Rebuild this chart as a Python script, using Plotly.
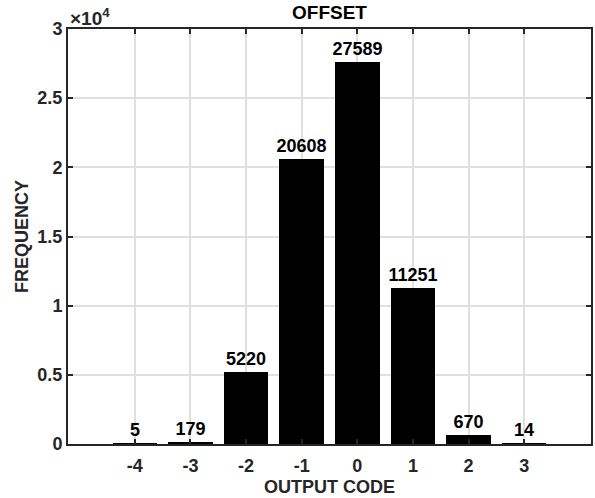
import plotly.graph_objects as go

codes = [-4, -3, -2, -1, 0, 1, 2, 3]
code_labels = ["-4", "-3", "-2", "-1", "0", "1", "2", "3"]
freq = [5, 179, 5220, 20608, 27589, 11251, 670, 14]
ytick_vals = [0, 5000, 10000, 15000, 20000, 25000, 30000]
ytick_text = ["0", "0.5", "1", "1.5", "2", "2.5", "3"]

FONT = "Liberation Sans, Arial, Helvetica, sans-serif"

fig = go.Figure()
fig.add_trace(go.Bar(
    x=codes, y=freq, width=0.8,
    marker=dict(color="black", line=dict(width=0)),
    text=[str(v) for v in freq], textposition="outside",
    constraintext="none",
    textfont=dict(family=FONT, size=18, color="black", weight="bold"),
    cliponaxis=False,
))

axis_common = dict(
    showline=True, linecolor="#262626", linewidth=2, mirror="ticks",
    ticks="inside", ticklen=5, tickwidth=2, tickcolor="#262626",
    showgrid=True, gridcolor="#dfdfdf", gridwidth=1.5,
    zeroline=False,
    tickfont=dict(family=FONT, size=18, color="#262626", weight="bold"),
)

fig.update_xaxes(range=[-5.2, 4.2], tickvals=codes, ticktext=code_labels, **axis_common,
                 ticklabelstandoff=4,
                 title=dict(text="OUTPUT CODE", standoff=6,
                            font=dict(family=FONT, size=18, color="#262626", weight="bold")))
fig.update_yaxes(range=[0, 30000], tickvals=ytick_vals, ticktext=ytick_text, **axis_common,
                 title=dict(text="FREQUENCY", standoff=4,
                            font=dict(family=FONT, size=18, color="#262626", weight="bold")))

fig.update_layout(
    width=595, height=498,
    margin=dict(l=68, r=2, t=29, b=54),
    plot_bgcolor="white", paper_bgcolor="white",
    showlegend=False,
    bargap=0,
    title=dict(text="OFFSET", x=0.5, xref="paper", xanchor="center", y=0.975, yanchor="middle",
               font=dict(family=FONT, size=19, color="black", weight="bold")),
    annotations=[dict(text="×10<sup>4</sup>", xref="paper", yref="paper", x=0, y=1,
                      xanchor="left", yanchor="bottom", showarrow=False, xshift=0, yshift=-2,
                      font=dict(family=FONT, size=19, color="#262626", weight="bold"))],
)

fig.write_html("out.html")
